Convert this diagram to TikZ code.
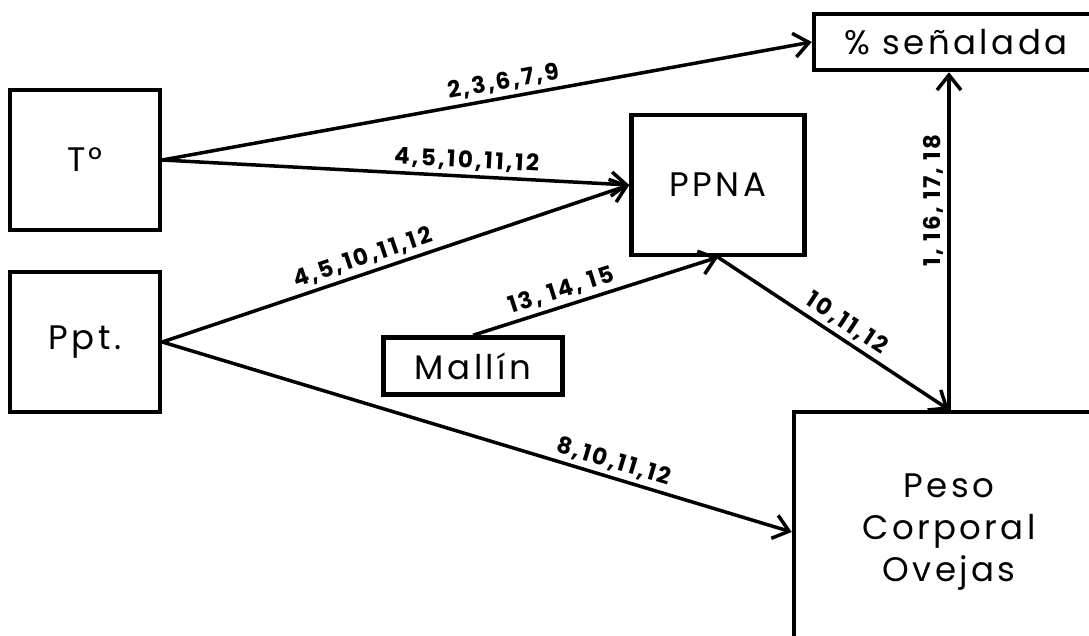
\documentclass[tikz,border=0pt]{standalone}
\usepackage{fontspec}
\setmainfont{Poppins}[LetterSpace=10]
\usepackage{tikz}
\usetikzlibrary{arrows.meta}
\tikzset{
    var/.style = {draw,line width=4.5pt,rectangle,inner sep=0,align=center,
        font=\fontsize{34}{42}\selectfont},
    eff/.style = {line width=3.5pt,-{Straight Barb[length=15pt,width=24pt,line width=3.5pt]}},
    refs/.style = {sloped,above,inner sep=4pt,font=\bfseries\fontsize{23}{26}\selectfont}
}
\begin{document}
\begin{tikzpicture}[x=1pt,y=-1pt]
        \useasboundingbox (0,0) rectangle (1089,635);
        % Variables
        \node[var,minimum width=150pt,minimum height=140pt] (T) at (85,160) {T°};
        \node[var,minimum width=150pt,minimum height=140pt] (P) at (85,342) {Ppt.};
        \node[var,minimum width=173pt,minimum height=140pt] (ppna) at (718,185) {PPNA};
        \node[var,minimum width=179pt,minimum height=57pt] (mallin) at (473,366) {Mallín};
        \node[var,minimum width=284pt,minimum height=56pt] (sen) at (956,42) {\% señalada};
        \node[var,minimum width=310pt,minimum height=240pt] (peso) at (949,532)
            {Peso\\Corporal\\Ovejas};
        % Effects
        \draw[eff] (T.east) to node[refs,pos=0.53] {2,3,6,7,9} (sen.west);
        \draw[eff] (T.east) to node[refs,pos=0.65] {4,5,10,11,12} (ppna.west);
        \draw[eff] (P.east) to node[refs,pos=0.44] {4,5,10,11,12} (ppna.west);
        \draw[eff] (mallin.north) to node[refs,pos=0.38] {13, 14, 15} (ppna.south);
        \draw[eff] (ppna.south) to node[refs,pos=0.52] {10,11,12} (peso.north);
        \draw[eff] (P.east) to node[refs,pos=0.71] {8,10,11,12} (peso.west);
        \draw[eff] (peso.north) to node[refs,pos=0.62] {1, 16, 17, 18} (peso.north |- sen.south);
    \end{tikzpicture}
\end{document}
